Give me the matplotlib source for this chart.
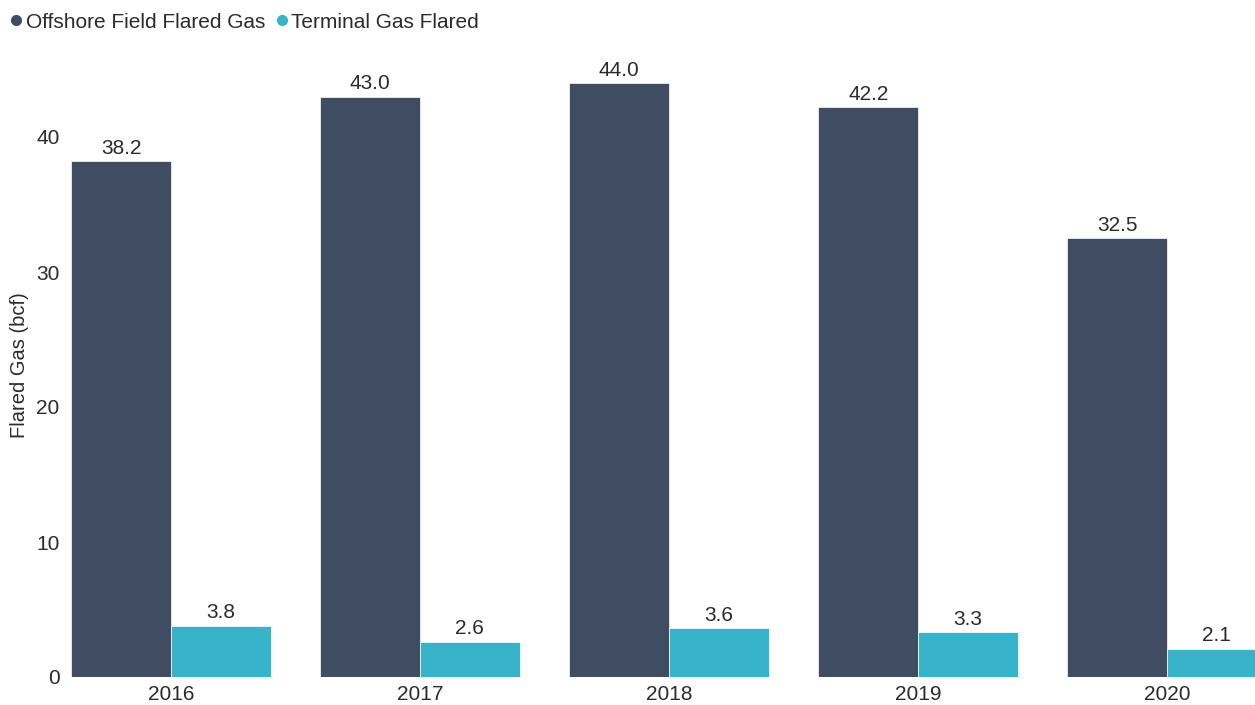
import numpy as np
import matplotlib
matplotlib.use("Agg")
from matplotlib import pyplot as plt
from matplotlib.lines import Line2D

# ----------------------------------------------------
# Data
# ----------------------------------------------------
years = ["2016", "2017", "2018", "2019", "2020"]
offshore_flared = [38.2, 43.0, 44.0, 42.2, 32.5]
terminal_flared = [3.8, 2.6, 3.6, 3.3, 2.1]
y_ticks = [0, 10, 20, 30, 40]

# ----------------------------------------------------
# Style
# ----------------------------------------------------
plt.rcParams["font.family"] = ["Liberation Sans", "DejaVu Sans"]
text_color = "#2b2b2b"
dark = "#404c61"
cyan = "#37b3ca"

# ----------------------------------------------------
# Visualization
# ----------------------------------------------------
fig = plt.figure(figsize=(12.55, 7.05), dpi=100)
ax = fig.add_axes([65 / 1255, 28 / 705, 1190 / 1255, 634.5 / 705])

x = np.arange(len(years))
width = 0.4
bars_off = ax.bar(x - width / 2, offshore_flared, width, color=dark,
                  edgecolor="white", linewidth=0.5)
bars_term = ax.bar(x + width / 2, terminal_flared, width, color=cyan,
                   edgecolor="white", linewidth=0.5)

for bars in (bars_off, bars_term):
    ax.bar_label(bars, fmt="%.1f", padding=2.5, fontsize=15, color=text_color)

ax.set_xlim(-0.4257, 4.353)
ax.set_ylim(0, 47)
ax.set_xticks(x)
ax.set_xticklabels(years)
ax.set_yticks(y_ticks)
ax.tick_params(axis="both", length=0, labelsize=15, colors=text_color)
ax.tick_params(axis="x", pad=6)
ax.tick_params(axis="y", pad=4)
for side in ("top", "right", "left", "bottom"):
    ax.spines[side].set_visible(False)

fig.text(20 / 1255, 1 - 365 / 705, "Flared Gas (bcf)", rotation=90,
         ha="center", va="center", fontsize=14.5, color=text_color)

handles = [
    Line2D([], [], marker="o", linestyle="", color=dark, markersize=7),
    Line2D([], [], marker="o", linestyle="", color=cyan, markersize=7),
]
fig.legend(handles, ["Offshore Field Flared Gas", "Terminal Gas Flared"],
           loc="center left", bbox_to_anchor=(12 / 1255, 1 - 22 / 705),
           ncol=2, frameon=False, fontsize=15, labelcolor=text_color,
           handlelength=0.4, handletextpad=0.25, columnspacing=0.6,
           borderpad=0, borderaxespad=0)

fig.savefig("out.png", dpi=100)
plt.close(fig)
